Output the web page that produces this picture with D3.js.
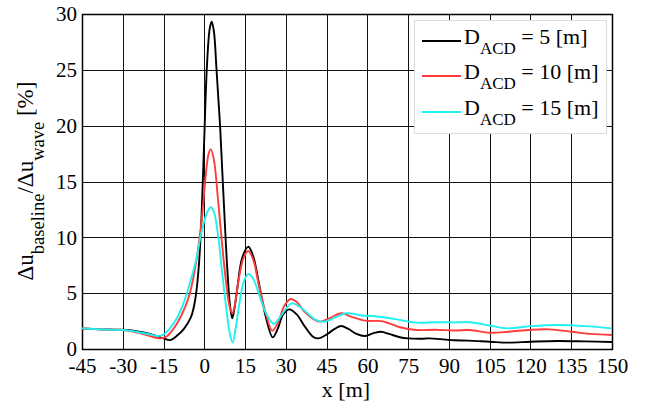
<!DOCTYPE html>
<html><head><meta charset="utf-8">
<script src="https://cdn.jsdelivr.net/npm/d3@7"></script>
<style>body{margin:0;background:#fff}svg{display:block}svg text{font-family:"Liberation Serif","Times New Roman",serif;fill:#000}</style>
</head><body><svg id="c" width="652" height="408"></svg>
<script>
const xTicks=[-45,-30,-15,0,15,30,45,60,75,90,105,120,135,150];
const yTicks=[0,5,10,15,20,25,30];
const seriesLabels=["5","10","15"];
const seriesColors=["#000000","#ff3c3c","#1ff0f0"];

const xBlack=[-45,-40,-35,-30,-25,-20,-17,-15,-12.5,-10,-7.5,-5,-4,-3,-2,-1,0,1,2,2.7,3.5,4.5,5.8,7,8.5,9.5,10.3,11,12,14,16.2,18,20,22.5,25.2,27,29,31.3,34,37,40,42,45,48,50.3,53,56,59,62,65,68,72,75,80,83,87,92,97,105,112,120,130,140,150];
const yBlack=[1.85,1.78,1.74,1.72,1.6,1.35,1.1,0.95,0.8,1.2,1.8,2.8,3.6,5.0,7.5,12,19,25.5,28.7,29.3,28.5,25,20,14,7,3.8,2.75,3.5,5.2,8.2,9.16,8.3,6.0,3.0,1.05,1.8,3.1,3.55,3.1,2.0,1.1,0.95,1.3,1.8,2.06,1.8,1.35,1.16,1.4,1.55,1.35,1.05,0.95,0.92,0.95,0.88,0.78,0.75,0.65,0.57,0.65,0.72,0.68,0.63];

const xRed=[-45,-40,-35,-30,-25,-20,-16.3,-14,-12,-10,-7.5,-5.3,-3,-1,0.5,1.5,2.35,3.5,5,6.5,8,9.3,10.3,11.3,12.5,14.5,16.2,18,20,22.5,25,27,29.5,31.8,34,37,40,42.6,46,50.5,54,59,65,68,72,78,85,92,97.7,105,112,120,127,135,142,150];
const yRed=[1.85,1.78,1.72,1.7,1.5,1.15,0.95,1.1,1.6,2.3,3.5,5.0,7.8,11.5,15.5,17.4,17.9,17.0,13.5,9.5,6.0,3.8,3.2,4.0,6.0,8.2,8.78,8.0,5.8,3.3,1.64,2.3,3.9,4.48,4.2,3.3,2.7,2.45,2.75,3.2,2.9,2.54,2.5,2.3,1.95,1.7,1.72,1.66,1.7,1.46,1.55,1.72,1.76,1.55,1.35,1.25];

const xCyan=[-45,-40,-35,-30,-25,-20,-17,-15,-12.5,-10,-7.5,-5.3,-3,-1,1,2.35,3.5,5,6.5,8,9.3,10.4,11.5,13,14.5,16.2,18,20,22.5,25.6,28,32.1,35,38,41,44,48,52.4,58,62,67,72,78,85,92,97.7,105,111.3,120,130,140,150];
const yCyan=[1.85,1.78,1.72,1.7,1.55,1.3,1.16,1.3,1.9,2.8,4.2,5.9,8.0,10.5,12.2,12.7,12.3,10.3,7.0,3.8,1.5,0.57,1.8,4.2,6.0,6.72,6.3,5.0,3.3,2.24,2.9,4.09,3.8,3.2,2.6,2.45,2.8,3.2,3.0,2.95,2.8,2.6,2.36,2.4,2.38,2.39,2.1,1.85,2.05,2.15,2.05,1.85];

const series=[[xBlack,yBlack],[xRed,yRed],[xCyan,yCyan]];

const L=82,R=612,T=14,B=349;
const svg=d3.select("#c");
const x=d3.scaleLinear().domain([-45,150]).range([L,R]);
const y=d3.scaleLinear().domain([0,30]).range([B,T]);

const g=svg.append("g");
g.selectAll(".vx").data(xTicks).join("line")
 .attr("x1",d=>Math.round(x(d))+0.5).attr("x2",d=>Math.round(x(d))+0.5)
 .attr("y1",T).attr("y2",B).attr("stroke","#111").attr("stroke-width",1);
g.selectAll(".hy").data(yTicks).join("line")
 .attr("y1",d=>Math.round(y(d))+0.5).attr("y2",d=>Math.round(y(d))+0.5)
 .attr("x1",L).attr("x2",R).attr("stroke","#111").attr("stroke-width",1);

svg.append("rect").attr("x",L+0.5).attr("y",T+0.5).attr("width",R-L).attr("height",B-T)
 .attr("fill","none").attr("stroke","#000").attr("stroke-width",1.5);

svg.append("clipPath").attr("id","clip").append("rect").attr("x",L).attr("y",T).attr("width",R-L).attr("height",B-T);

const line=d3.line().curve(d3.curveCatmullRom.alpha(0.5));
series.forEach((s,i)=>{
  const pts=s[0].map((xv,j)=>[x(xv),y(s[1][j])]);
  svg.append("path").attr("d",line(pts)).attr("fill","none")
   .attr("stroke",seriesColors[i]).attr("stroke-width",1.9).attr("clip-path","url(#clip)");
});

const fmt=d=>String(d);
const xa=d3.axisBottom(x).tickValues(xTicks).tickFormat(fmt).tickSize(0).tickPadding(9);
const gx=svg.append("g").attr("transform",`translate(0,${B})`).call(xa).attr("font-family",null);
gx.select(".domain").remove();
gx.selectAll("text").style("font-size","21px");
const ya=d3.axisLeft(y).tickValues(yTicks).tickFormat(fmt).tickSize(0).tickPadding(5);
const gy=svg.append("g").attr("transform",`translate(${L},0)`).call(ya).attr("font-family",null);
gy.select(".domain").remove();
gy.selectAll("text").style("font-size","21px");

svg.append("text").attr("x",346).attr("y",397).attr("text-anchor","middle").style("font-size","22px").text("x [m]");

const yl=svg.append("text").attr("transform","translate(33,181) rotate(-90)").attr("text-anchor","middle").style("font-size","23px");
yl.append("tspan").text("Δu");
yl.append("tspan").attr("dy",11).style("font-size","18.5px").text("baseline");
yl.append("tspan").attr("dy",-11).text("/Δu");
yl.append("tspan").attr("dy",11).style("font-size","18.5px").text("wave");
yl.append("tspan").attr("dy",-11).text(" [%]");

const lg=svg.append("g");
lg.append("rect").attr("x",414.5).attr("y",20.5).attr("width",192).attr("height",113)
 .attr("fill","#fff").attr("stroke","#dcdcdc").attr("stroke-width",1);
const rowY=[41,76,112];
seriesLabels.forEach((lab,i)=>{
  lg.append("line").attr("x1",422).attr("x2",461).attr("y1",rowY[i]).attr("y2",rowY[i])
    .attr("stroke",seriesColors[i]).attr("stroke-width",2);
  const t=lg.append("text").attr("x",464).attr("y",rowY[i]+3).style("font-size","22px");
  t.append("tspan").text("D");
  t.append("tspan").attr("dy",10).style("font-size","17px").text("ACD");
  t.append("tspan").attr("dy",-10).text(" = "+lab+" [m]");
});
</script></body></html>
